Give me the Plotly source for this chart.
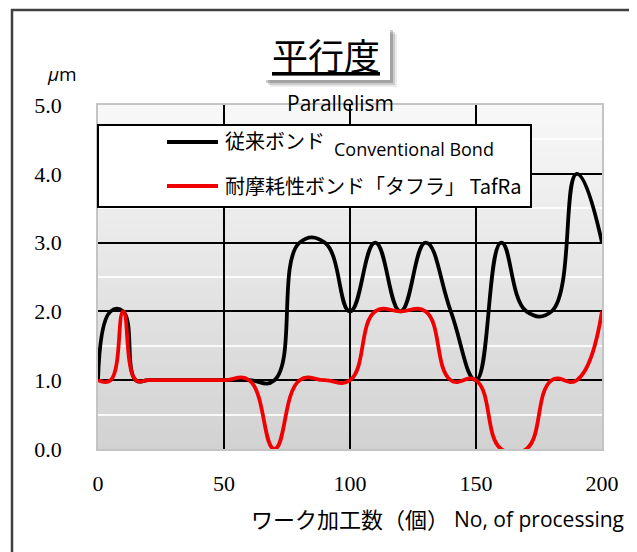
import plotly.graph_objects as go

# ---------------- data ----------------
conv_x = [0, 5, 10, 15, 20, 30, 40, 50, 60, 70, 80, 90, 100, 110, 120, 130, 140, 150, 160, 170, 180, 190, 200]
conv_y = [1, 2, 2, 1, 1, 1, 1, 1, 1, 1, 3, 3, 2, 3, 2, 3, 2, 1, 3, 2, 2, 4, 3]

tafra_x = [0, 5, 10, 15, 20, 30, 40, 50, 60, 70, 80, 90, 100, 110, 120, 130, 140, 150, 160, 170, 180, 190, 200]
tafra_y = [1, 1, 2, 1, 1, 1, 1, 1, 1, 0, 1, 1, 1, 2, 2, 2, 1, 1, 0, 0, 1, 1, 2]

x_ticks = [0, 50, 100, 150, 200]
y_ticks = [0, 1, 2, 3, 4, 5]
y_ticktext = ["0.0", "1.0", "2.0", "3.0", "4.0", "5.0"]

title_text = "平行度"
subtitle_text = "Parallelism"
unit_text = "<i>μ</i>m"
legend1_jp = "従来ボンド"
legend1_en = "Conventional Bond"
legend2_text = "耐摩耗性ボンド「タフラ」 TafRa"
xtitle_jp = "ワーク加工数（個）"
xtitle_en = "No, of processing"

# ---------------- layout helpers (page pixel -> paper) ----------------
OFF = 8                      # default page body margin
W, H = 637 - OFF, 552 - OFF  # figure size
L, T = 98 - OFF, 105 - OFF   # plot area left / top in figure pixels
PLOT_R, PLOT_B = 602 - OFF, 449 - OFF
R, B = W - PLOT_R, H - PLOT_B
PW = PLOT_R - L
PH = PLOT_B - T


def PX(x):
    return (x - OFF - L) / PW


def PY(y):
    return (PLOT_B - (y - OFF)) / PH


CJK = "Noto Sans CJK JP"
SANS = "Open Sans"
SERIF = "Liberation Serif"

fig = go.Figure()
fig.add_trace(go.Scatter(x=conv_x, y=conv_y, mode="lines",
                         line=dict(color="#000000", width=3.8, shape="spline", smoothing=1.3),
                         name=legend1_jp, showlegend=False))
fig.add_trace(go.Scatter(x=tafra_x, y=tafra_y, mode="lines",
                         line=dict(color="#f00000", width=3.8, shape="spline", smoothing=1.3),
                         name="耐摩耗性ボンド「タフラ」", showlegend=False))

shapes = []
# gradient background of the plot area
n = 60
top_c = (248, 248, 248)
bot_c = (210, 210, 210)
for i in range(n):
    f = i / (n - 1)
    c = tuple(round(bot_c[k] + (top_c[k] - bot_c[k]) * f) for k in range(3))
    shapes.append(dict(type="rect", xref="paper", yref="paper", x0=0, x1=1,
                       y0=i / n, y1=(i + 1) / n + 0.002, layer="below",
                       line=dict(width=0), fillcolor="rgb(%d,%d,%d)" % c))

# outer frame (top and left edges visible)
shapes.append(dict(type="line", xref="paper", yref="paper", x0=PX(11), x1=PX(645), y0=PY(10), y1=PY(10),
                   line=dict(color="#404040", width=2.5)))
shapes.append(dict(type="line", xref="paper", yref="paper", x0=PX(12), x1=PX(12), y0=PY(9), y1=PY(560),
                   line=dict(color="#404040", width=2.5)))

# title box with soft shadow
for off, alpha in [(7, 0.08), (5, 0.13), (3, 0.20)]:
    shapes.append(dict(type="rect", xref="paper", yref="paper",
                       x0=PX(263 + off), x1=PX(390 + off), y0=PY(80 + off), y1=PY(27 + off),
                       line=dict(width=0), fillcolor="rgba(0,0,0,%.2f)" % alpha))
shapes.append(dict(type="rect", xref="paper", yref="paper",
                   x0=PX(263), x1=PX(390), y0=PY(80), y1=PY(27),
                   line=dict(width=0), fillcolor="white"))

# legend box
shapes.append(dict(type="rect", xref="paper", yref="paper",
                   x0=PX(98), x1=PX(531), y0=PY(207), y1=PY(125),
                   line=dict(color="black", width=2), fillcolor="white", layer="above"))
shapes.append(dict(type="line", xref="paper", yref="paper", x0=PX(167), x1=PX(218), y0=PY(142), y1=PY(142),
                   line=dict(color="black", width=4), layer="above"))
shapes.append(dict(type="line", xref="paper", yref="paper", x0=PX(167), x1=PX(218), y0=PY(186), y1=PY(186),
                   line=dict(color="#f00000", width=4), layer="above"))

annotations = [
    dict(text="<u>" + title_text + "</u>", x=PX(326), y=PY(54), font=dict(family=CJK, size=36, color="black")),
    dict(text=subtitle_text, x=PX(340), y=PY(103), font=dict(family=SANS, size=21, color="black")),
    dict(text=unit_text, x=PX(62), y=PY(74), font=dict(family=SANS, size=19, color="black")),
    dict(text=legend1_jp, x=PX(223), y=PY(140), xanchor="left", font=dict(family=CJK, size=20, color="black")),
    dict(text=legend1_en, x=PX(332), y=PY(149), xanchor="left", font=dict(family=SANS, size=18, color="black")),
    dict(text=legend2_text, x=PX(223), y=PY(185), xanchor="left", font=dict(family=CJK, size=20, color="black")),
    dict(text=xtitle_jp, x=PX(249), y=PY(518), xanchor="left", font=dict(family=CJK, size=22, color="black")),
    dict(text=xtitle_en, x=PX(626), y=PY(519), xanchor="right", font=dict(family=SANS, size=21, color="black")),
]
for a in annotations:
    a.update(xref="paper", yref="paper", showarrow=False)
    a.setdefault("xanchor", "center")
    a.setdefault("yanchor", "middle")

fig.update_layout(
    width=W, height=H, autosize=False,
    margin=dict(l=L, r=R, t=T, b=B, pad=0),
    paper_bgcolor="white", plot_bgcolor="#e6e6e6",
    shapes=shapes, annotations=annotations,
    showlegend=False,
)
fig.update_xaxes(range=[0, 200], tickmode="array", tickvals=x_ticks,
                 showgrid=True, gridcolor="black", gridwidth=1.5, zeroline=False,
                 showline=True, mirror=True, linecolor="#c4c4c4", linewidth=1.5,
                 ticks="", ticklabelstandoff=14,
                 tickfont=dict(family=SERIF, size=22, color="black"))
fig.update_yaxes(range=[0, 5], tickmode="array", tickvals=y_ticks, ticktext=y_ticktext,
                 showgrid=True, gridcolor="black", gridwidth=2, zeroline=False,
                 showline=True, mirror=True, linecolor="#c4c4c4", linewidth=1.5,
                 minor=dict(dtick=0.5, showgrid=True, gridcolor="rgba(255,255,255,0.85)", gridwidth=2),
                 ticks="", ticklabelstandoff=30,
                 tickfont=dict(family=SERIF, size=22, color="black"))

fig.write_html("out.html")
